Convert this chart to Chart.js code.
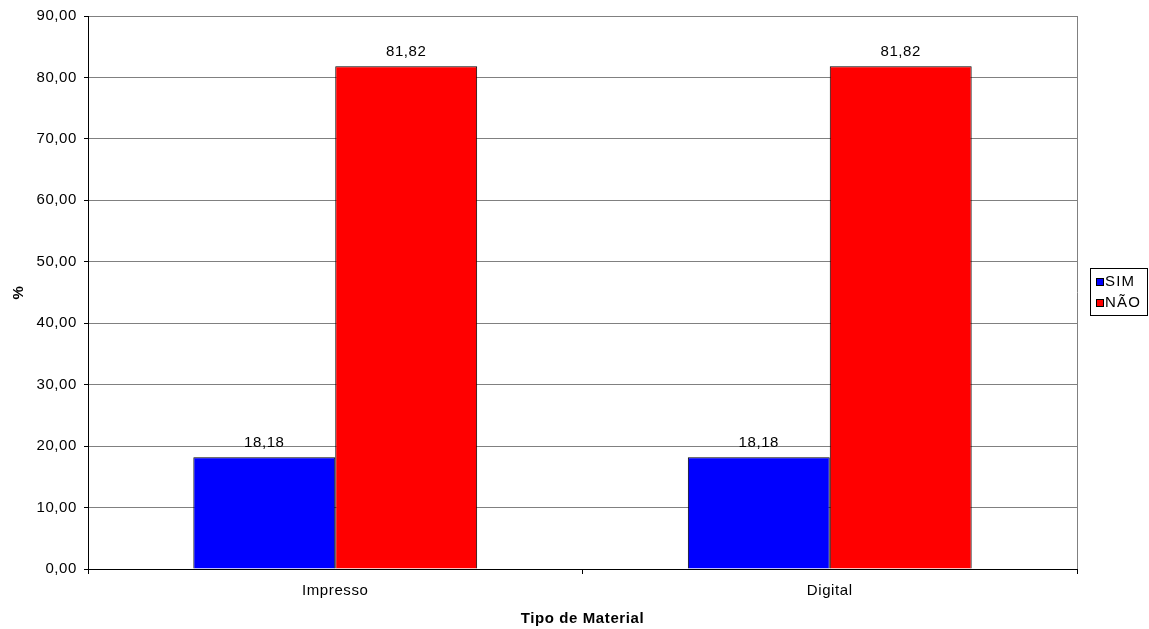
<!DOCTYPE html>
<html>
<head>
<meta charset="utf-8">
<script src="https://cdn.jsdelivr.net/npm/chart.js@4/dist/chart.umd.min.js"></script>
<style>
  html, body { margin: 0; padding: 0; background: #fff; }
  #wrap { width: 1149px; height: 629px; }
</style>
</head>
<body>
<div id="wrap"><canvas id="chart" width="1149" height="629"></canvas></div>
<script>
const categories = ['Impresso', 'Digital'];
const simValues = [18.18, 18.18];
const naoValues = [81.82, 81.82];
const seriesNames = ['SIM', 'NÃO'];
const seriesColors = ['#0000ff', '#ff0000'];

const fmt = v => v.toFixed(2).replace('.', ',');
const FONT = 'Arial, "Liberation Sans", sans-serif';

// the reference text is a little wider than plain Arial
const spacing = {
  id: 'spacing',
  beforeInit(chart) { chart.ctx.letterSpacing = '0.6px'; },
  beforeDraw(chart) { chart.ctx.letterSpacing = '0.6px'; }
};

// value labels above each bar
const valueLabels = {
  id: 'valueLabels',
  afterDatasetsDraw(chart) {
    const ctx = chart.ctx;
    ctx.save();
    ctx.font = '15px ' + FONT;
    ctx.fillStyle = '#000';
    ctx.textAlign = 'center';
    ctx.textBaseline = 'alphabetic';
    chart.data.datasets.forEach((ds, i) => {
      chart.getDatasetMeta(i).data.forEach((bar, j) => {
        ctx.fillText(fmt(ds.data[j]), bar.x, bar.y - 10);
      });
    });
    ctx.restore();
  }
};

// gray right border of plot area
const plotBorder = {
  id: 'plotBorder',
  beforeDatasetsDraw(chart) {
    const { ctx, chartArea: a } = chart;
    ctx.save();
    ctx.strokeStyle = '#808080';
    ctx.lineWidth = 1;
    ctx.beginPath();
    ctx.moveTo(Math.round(a.right) + 0.5, a.top);
    ctx.lineTo(Math.round(a.right) + 0.5, a.bottom);
    ctx.stroke();
    ctx.restore();
  }
};

// boxed legend on the right
const boxLegend = {
  id: 'boxLegend',
  afterDraw(chart) {
    const ctx = chart.ctx;
    const x = 1090.5, y = 268.5, w = 57, h = 47;
    ctx.save();
    ctx.fillStyle = '#fff';
    ctx.fillRect(x, y, w, h);
    ctx.strokeStyle = '#000';
    ctx.lineWidth = 1;
    ctx.strokeRect(x, y, w, h);
    ctx.font = '15px ' + FONT;
    ctx.letterSpacing = '1.2px';
    ctx.textBaseline = 'middle';
    ctx.textAlign = 'left';
    chart.data.datasets.forEach((ds, i) => {
      const cy = 282 + i * 21;
      ctx.fillStyle = ds.backgroundColor;
      ctx.fillRect(1096, cy - 4, 8, 8);
      ctx.strokeStyle = '#000';
      ctx.strokeRect(1096.5, cy - 3.5, 7, 7);
      ctx.fillStyle = '#000';
      ctx.fillText(ds.label, 1105, cy);
    });
    ctx.restore();
  }
};

new Chart(document.getElementById('chart'), {
  type: 'bar',
  data: {
    labels: categories,
    datasets: [
      { label: seriesNames[0], data: simValues, backgroundColor: seriesColors[0], borderColor: '#000', borderWidth: 1 },
      { label: seriesNames[1], data: naoValues, backgroundColor: seriesColors[1], borderColor: '#000', borderWidth: 1 }
    ]
  },
  options: {
    responsive: false,
    animation: false,
    events: [],
    datasets: { bar: { barPercentage: 1, categoryPercentage: 0.574 } },
    layout: { padding: { top: 16, right: 72, left: 0, bottom: 0 } },
    plugins: { legend: { display: false }, tooltip: { enabled: false } },
    scales: {
      x: {
        grid: { display: true, drawOnChartArea: false, offset: true, tickLength: 5, color: '#000' },
        border: { color: '#000', width: 1 },
        ticks: { color: '#000', font: { family: FONT, size: 15 }, padding: 8 },
        title: { display: true, text: 'Tipo de Material', color: '#000', font: { family: FONT, size: 15, weight: 'bold' }, padding: { top: 0, bottom: 1 } },
        afterFit(scale) { scale.height = 60; }
      },
      y: {
        min: 0,
        max: 90,
        ticks: { stepSize: 10, color: '#000', font: { family: FONT, size: 15 }, padding: 7, callback: v => fmt(v) },
        grid: { color: '#808080', tickColor: '#000', tickLength: 4 },
        border: { color: '#000', width: 1 },
        title: { display: true, text: '%', color: '#000', font: { family: FONT, size: 15, weight: 'bold' }, padding: { top: 10, bottom: 0 } },
        afterFit(scale) { scale.width = 88; }
      }
    }
  },
  plugins: [spacing, plotBorder, valueLabels, boxLegend]
});
</script>
</body>
</html>
